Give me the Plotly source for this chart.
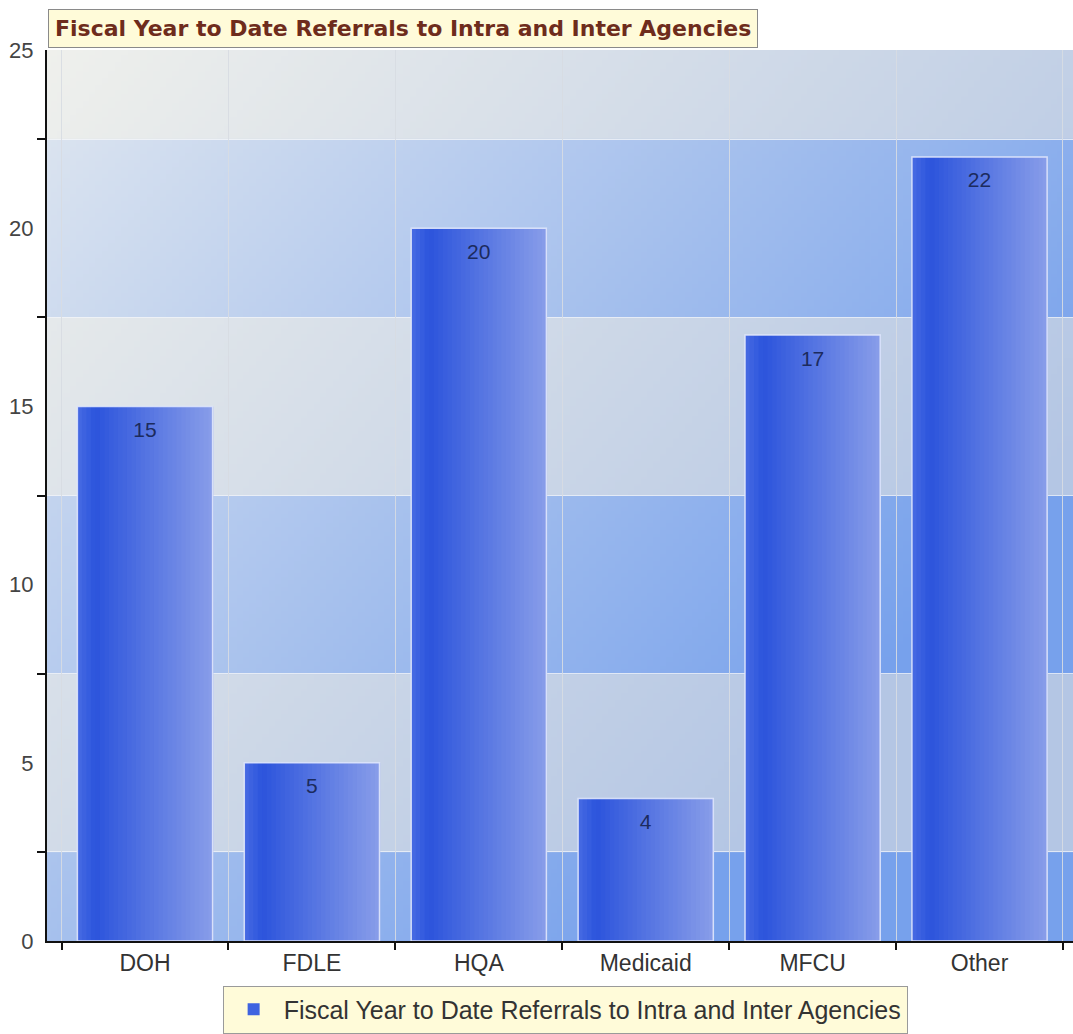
import base64
import struct
import zlib

import plotly.graph_objects as go

# ---------------- data ----------------
categories = ["DOH", "FDLE", "HQA", "Medicaid", "MFCU", "Other"]
values = [15, 5, 20, 4, 17, 22]
series_name = "Fiscal Year to Date Referrals to Intra and Inter Agencies"
chart_title = "Fiscal Year to Date Referrals to Intra and Inter Agencies"
y_tick_values = [0, 5, 10, 15, 20, 25]

# ---------------- styling helpers ----------------
def hex2rgb(h):
    h = h.lstrip("#")
    return tuple(int(h[i:i + 2], 16) for i in (0, 2, 4))


def lerp(c1, c2, t):
    t = max(0.0, min(1.0, t))
    return tuple(int(round(a + (b - a) * t)) for a, b in zip(c1, c2))


def png_uri(w, h, pixel_fn):
    rows = []
    for j in range(h):
        row = bytearray([0])
        for i in range(w):
            row.extend(pixel_fn(i / (w - 1), j / (h - 1)))
        rows.append(bytes(row))
    raw = b"".join(rows)

    def chunk(tag, data):
        c = struct.pack(">I", len(data)) + tag + data
        return c + struct.pack(">I", zlib.crc32(tag + data) & 0xFFFFFFFF)

    png = b"\x89PNG\r\n\x1a\n"
    png += chunk(b"IHDR", struct.pack(">IIBBBBB", w, h, 8, 2, 0, 0, 0))
    png += chunk(b"IDAT", zlib.compress(raw, 9))
    png += chunk(b"IEND", b"")
    return "data:image/png;base64," + base64.b64encode(png).decode()


LIGHT0 = hex2rgb("#eff0ec")
LIGHT1 = hex2rgb("#b4c6e4")
BLUE0 = hex2rgb("#e0e7ef")
BLUE1 = hex2rgb("#77a1ec")


def bg_pixel(u, v):
    yval = 25 * (1 - v)
    blue_band = int(((yval + 2.5) // 5)) % 2 == 0
    s = 0.75 * u + 0.55 * v
    if blue_band:
        return lerp(BLUE0, BLUE1, s)
    return lerp(LIGHT0, LIGHT1, s)


bg_uri = png_uri(160, 500, bg_pixel)

# bar gradient (left dark -> right light) built from overlaid strips
BAR_EDGE = hex2rgb("#4468e2")
BAR_L = hex2rgb("#2c54dc")
BAR_R = hex2rgb("#879ce9")
bar_width = 0.81
n_strips = 30

fig = go.Figure()

# base bar (legend entry)
fig.add_trace(go.Bar(
    x=categories, y=values, name=series_name,
    width=bar_width,
    marker=dict(color="#3f63e0", line=dict(width=0)),
    showlegend=True, hoverinfo="skip",
))

for k in range(n_strips):
    t = k / (n_strips - 1)
    if t < 0.12:
        col = lerp(BAR_EDGE, BAR_L, t / 0.12)
    else:
        col = lerp(BAR_L, BAR_R, (t - 0.12) / 0.88)
    w = bar_width / n_strips
    fig.add_trace(go.Bar(
        x=categories, y=values,
        width=w * 1.15,
        offset=-bar_width / 2 + k * w,
        marker=dict(color="rgb(%d,%d,%d)" % col, line=dict(width=0)),
        showlegend=False, hoverinfo="skip",
    ))

# outline trace for 3D-ish edge
fig.add_trace(go.Bar(
    x=categories, y=values,
    width=bar_width,
    marker=dict(color="rgba(0,0,0,0)",
                line=dict(color="rgba(225,232,252,0.9)", width=1.5)),
    showlegend=False, hoverinfo="skip",
))

# value labels (transparent markers push the text below the bar top)
fig.add_trace(go.Scatter(
    x=categories, y=values, mode="markers+text",
    text=[str(v) for v in values],
    textposition="bottom center",
    marker=dict(size=22, color="rgba(0,0,0,0)"),
    textfont=dict(family="Liberation Sans, Arial, sans-serif", size=21, color="#1c2b5e"),
    showlegend=False, hoverinfo="skip",
))

fig.update_layout(
    width=1073, height=1034,
    margin=dict(l=47, r=0, t=50, b=91),
    paper_bgcolor="white",
    plot_bgcolor="rgba(0,0,0,0)",
    barmode="overlay",
    font=dict(family="Liberation Sans, Arial, sans-serif", size=22, color="#3a3a3a"),
    images=[dict(source=bg_uri, xref="paper", yref="paper", x=0, y=1,
                 sizex=1, sizey=1, sizing="stretch", layer="below",
                 xanchor="left", yanchor="top")],
    xaxis=dict(
        type="category",
        range=[-0.587, 5.56],
        tickson="boundaries",
        ticks="outside", ticklen=7, tickcolor="#111", tickwidth=2,
        showgrid=True, gridcolor="rgba(215,220,226,0.9)", gridwidth=1,
        showline=True, linecolor="#111", linewidth=2,
        tickfont=dict(size=23, color="#333"),
        zeroline=False,
    ),
    yaxis=dict(
        range=[0, 25],
        tickvals=y_tick_values,
        ticks="outside", ticklen=7, tickcolor="rgba(0,0,0,0)",
        showgrid=False,
        showline=True, linecolor="#111", linewidth=2,
        tickfont=dict(size=22, color="#444"),
        zeroline=False,
        minor=dict(tick0=2.5, dtick=5, ticks="outside", ticklen=8,
                   tickcolor="#111", tickwidth=2,
                   showgrid=True, gridcolor="rgba(245,247,250,0.75)", gridwidth=1),
    ),
    legend=dict(
        orientation="h", x=0.505, xanchor="center", y=-0.05, yanchor="top",
        bgcolor="#fffbd9", bordercolor="#9a9a9a", borderwidth=1,
        font=dict(size=25, color="#333"),
        itemwidth=50,
    ),
    annotations=[dict(
        text="<b>" + chart_title + "</b>",
        xref="paper", yref="paper", x=0.001, y=1, xanchor="left", yanchor="bottom",
        yshift=2, showarrow=False,
        font=dict(family="DejaVu Sans, Verdana, sans-serif", size=22, color="#6e2c1c"),
        bgcolor="#fffbd9", bordercolor="#8a8a8a", borderwidth=1, borderpad=6,
    )],
)

fig.write_html("out.html")
